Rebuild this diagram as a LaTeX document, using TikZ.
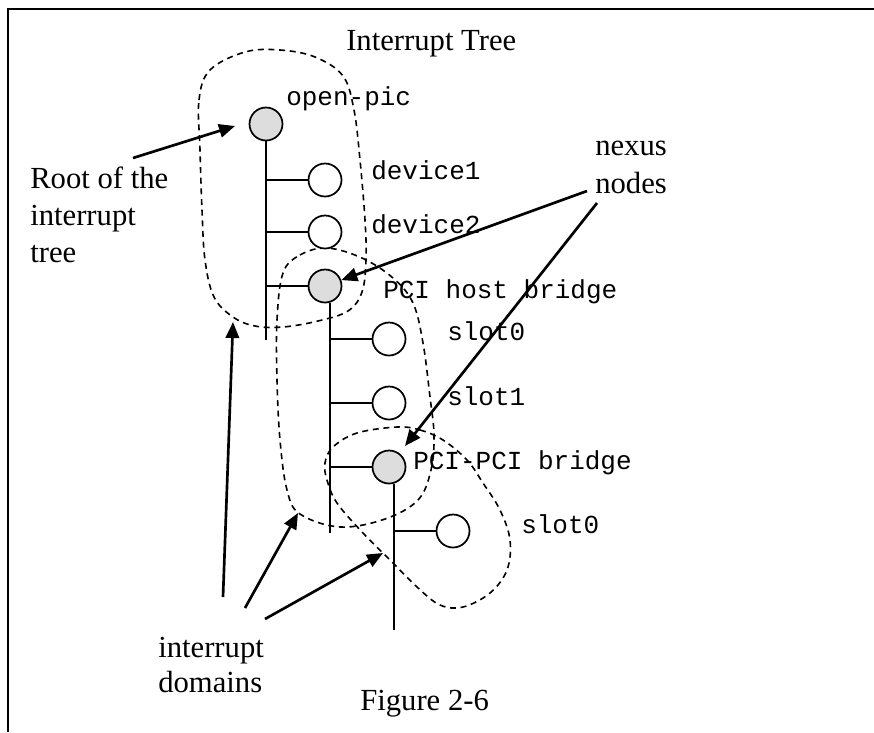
\documentclass[tikz,border=0pt]{standalone}
\usepackage{fontspec}
\setmainfont{Liberation Serif}
\setmonofont{Liberation Mono}
\usetikzlibrary{arrows.meta}
\definecolor{nodegray}{HTML}{DDDDDD}
\begin{document}
\begin{tikzpicture}[x=0.75pt,y=-0.75pt,
  ser/.style={inner sep=0pt,anchor=base west,font=\fontsize{23}{27}\selectfont},
  mono/.style={inner sep=0pt,anchor=base west,font=\ttfamily\fontsize{19.5}{23}\selectfont},
  dev/.style={circle,draw,line width=1.3pt,fill=white,minimum size=24.75pt,inner sep=0pt},
  nexus/.style={dev,fill=nodegray},
  wire/.style={line width=1.4pt},
  dom/.style={line width=1.2pt,dash pattern=on 4.5pt off 3.5pt},
  pointer/.style={line width=2pt,-{Triangle[length=12pt,width=10pt]}}]
\useasboundingbox (0,0) rectangle (874,732);
% frame
\draw[line width=1.5pt] (8,732) -- (8,9);
\draw[line width=2.2pt] (7.2,9) -- (874,9);

% title and caption
\node[ser] (ttl) at (346,50) {Interrupt Tree};
\node[ser] (fig) at (360,710) {Figure 2-6};

% domains
\draw[dom] plot[smooth cycle,tension=0.6] coordinates {
 (200,150) (199,100) (210,70) (245,52) (280,50) (315,57) (343,76) (354,110)
 (360,160) (365,220) (366,260) (362,292) (348,311) (318,321) (283,327)
 (255,326) (233,317) (214,297) (205,260) (202,210)};
\draw[dom] plot[smooth cycle,tension=0.6] coordinates {
 (283,273) (300,255) (327,248) (362,258) (393,278) (413,303) (423,343)
 (430,397) (434,435) (431,470) (418,500) (385,519) (340,527) (300,514)
 (287,490) (280,440) (277,380) (277,320)};
\draw[dom] plot[smooth cycle,tension=0.6] coordinates {
 (397,427) (420,430) (443,440) (467,460) (483,483) (500,510) (510,540)
 (507,570) (490,593) (463,607) (440,605) (417,587) (390,560) (363,533)
 (337,503) (327,480) (325,463) (333,447) (357,433)};

% trunk ends
\coordinate (t1end) at (266,340);
\coordinate (t2end) at (330,533);
\coordinate (t3end) at (394,630);

% nodes
\node[nexus] (op) at (266,124) {};
\node[dev] (d1) at (325,180) {};
\node[dev] (d2) at (325,232) {};
\node[nexus] (hb) at (325,286) {};
\node[dev] (s0) at (389,339) {};
\node[dev] (s1) at (389,403) {};
\node[nexus] (pp) at (389,467) {};
\node[dev] (s2) at (453,531) {};

% wires
\draw[wire] (op.south) -- (t1end);
\draw[wire] (d1.west) -- (d1.west -| t1end);
\draw[wire] (d2.west) -- (d2.west -| t1end);
\draw[wire] (hb.west) -- (hb.west -| t1end);
\draw[wire] (hb.-72) -- (hb.-72 |- t2end);
\draw[wire] (s0.west) -- (s0.west -| t2end);
\draw[wire] (s1.west) -- (s1.west -| t2end);
\draw[wire] (pp.west) -- (pp.west -| t2end);
\draw[wire] (pp.-72) -- (pp.-72 |- t3end);
\draw[wire] (s2.west) -- (s2.west -| t3end);

% labels
\node[mono] (lop) at (286,105) {open-pic};
\node[mono] (ld1) at (371,179) {device1};
\node[mono] (ld2) at (371,233) {device2};
\node[mono] (lhb) at (383,298) {PCI host bridge};
\node[mono] (ls0) at (447,340) {slot0};
\node[mono] (ls1) at (447,405) {slot1};
\node[mono] (lpp) at (413,469) {PCI-PCI bridge};
\node[mono] (ls2) at (521,533) {slot0};

% annotations
\node[ser] (root1) at (30,188) {Root of the};
\node[ser] (root2) at (30,225) {interrupt};
\node[ser] (root3) at (30,262) {tree};
\node[ser] (nex1) at (595,155) {nexus};
\node[ser] (nex2) at (595,193) {nodes};
\node[ser] (dom1) at (158,657) {interrupt};
\node[ser] (dom2) at (158,692) {domains};

% arrows
\coordinate (rootTail) at (133,158);
\coordinate (rootTip) at (235,126);
\draw[pointer] (rootTail) -- (rootTip);
\coordinate (nexTailA) at (587,191);
\coordinate (nexTailB) at (597,203);
\coordinate (nexTipB) at (405,446);
\draw[pointer] (nexTailA) -- (hb);
\draw[pointer] (nexTailB) -- (nexTipB);
\coordinate (domTailA) at (223,597);
\coordinate (domTailB) at (245,608);
\coordinate (domTailC) at (265,619);
\coordinate (domTipA) at (233,322);
\coordinate (domTipB) at (298,513);
\coordinate (domTipC) at (383,553);
\draw[pointer] (domTailA) -- (domTipA);
\draw[pointer] (domTailB) -- (domTipB);
\draw[pointer] (domTailC) -- (domTipC);
\end{tikzpicture}
\end{document}
